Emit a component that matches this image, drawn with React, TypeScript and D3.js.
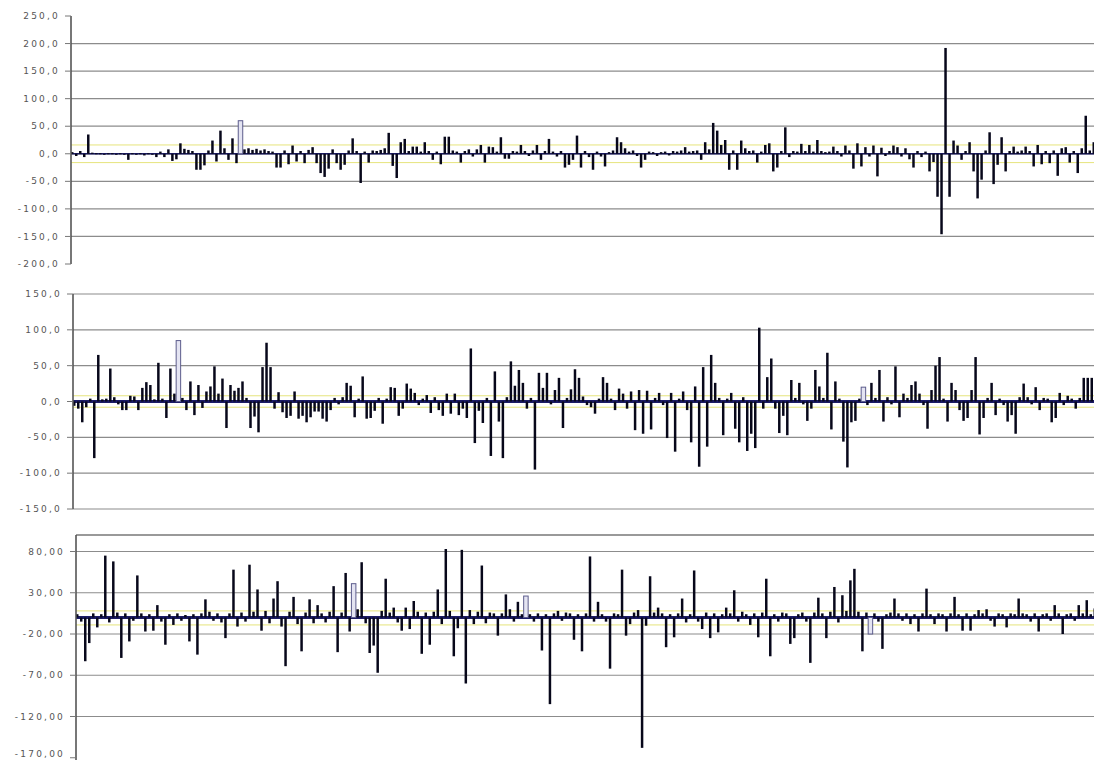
import React from 'react'
import { scaleBand, scaleLinear, range } from 'd3'

const W = 1094, H = 760

// 256 samples per panel
const seriesA = [
  3, -4, 5, -6, 35, 2, 1, 1, 0, 1, 1, 0, 1, 0, -11, 1,
  0, 1, -3, 1, 0, -6, 4, -6, 8, -13, -10, 19, 9, 7, 5, -29,
  -29, -21, 6, 24, -14, 42, 10, -11, 28, -17, 60, 8, 10, 7, 9, 6,
  8, 5, 4, -25, -25, 6, -19, 15, -14, 5, -17, 7, 12, -17, -35, -42,
  -27, 8, -17, -29, -20, 6, 28, 5, -53, 4, -16, 6, 5, 7, 10, 38,
  -22, -44, 21, 27, 5, 13, 13, 4, 21, 5, -11, 4, -19, 31, 31, 6,
  4, -16, 5, 8, -5, 8, 16, -16, 13, 12, 4, 30, -9, -9, 5, 4,
  16, 5, -4, 6, 16, -11, 5, 27, 4, -5, 5, -25, -20, -11, 33, -25,
  5, -6, -29, 4, -5, -23, 3, 6, 30, 21, 10, 4, 6, -4, -25, -11,
  4, 3, -4, 3, 4, -3, 5, 4, 6, 12, 4, 5, 6, -11, 21, 8,
  56, 42, 16, 25, -29, 6, -29, 24, 10, 5, 6, -16, 4, 16, 19, -32,
  -25, 5, 48, -6, 5, 4, 18, 5, 16, 4, 25, 5, 3, 4, 13, 5,
  -5, 15, 6, -27, 19, -23, 12, -5, 15, -41, 11, -4, 5, 15, 12, -5,
  10, -10, -25, 5, -6, 4, -32, -15, -78, -146, 192, -78, 24, 15, -11, 5,
  21, -32, -81, -47, 6, 39, -55, -20, 30, -32, 5, 13, 4, 6, 13, 5,
  -23, 16, -19, 5, -17, 6, -40, 10, 12, -16, 5, -35, 10, 69, 6, 21,
]

const seriesB = [
  -6, -10, -29, -8, 4, -79, 65, 3, 4, 46, 6, -4, -12, -12, 8, 7,
  -12, 19, 27, 23, 3, 54, 4, -23, 46, 11, 85, 5, -12, 28, -19, 23,
  -9, 14, 21, 49, 11, 32, -37, 23, 15, 19, 28, 5, -37, -21, -43, 48,
  82, 48, -10, 13, -15, -23, -20, 14, -24, -20, -29, -22, -14, -14, -24, -28,
  -12, 5, -4, 6, 26, 22, -22, 4, 35, -24, -23, -13, 5, -31, 4, 20,
  19, -20, -10, 25, 18, 12, -5, 4, 9, -16, 6, -12, -20, 11, -17, 11,
  -19, -10, -23, 74, -58, -13, -30, 5, -76, 42, -28, -79, 6, 56, 22, 44,
  26, -10, 5, -95, 40, 19, 40, -4, 16, 33, -37, 5, 17, 45, 33, 7,
  -5, -8, -17, 4, 34, 26, 4, -12, 18, 11, -10, 14, -40, 16, -45, 15,
  -39, 5, 12, -5, -51, 12, -70, 4, 14, -12, -57, 21, -91, 48, -63, 65,
  26, 5, -47, 4, 12, -38, -57, 6, -69, -45, -65, 103, -10, 34, 60, -10,
  -44, -20, -47, 30, 5, 26, -4, -27, -10, 44, 21, 5, 68, -39, 28, 4,
  -56, -92, -29, -27, 4, 20, -5, 26, 5, 44, -28, 6, -4, 49, -22, 11,
  5, 23, 28, 11, -5, -38, 16, 50, 62, 4, -28, 26, 16, -12, -27, -23,
  16, 62, -46, -23, 5, 26, -19, 4, -5, -28, -19, -45, 6, 25, 6, -4,
  20, -12, 5, 4, -29, -23, 12, -5, 8, 4, -10, 5, 33, 33, 33, -10,
]

const seriesC = [
  4, -5, -53, -31, 5, -12, 4, 75, -6, 68, 6, -49, 5, -29, -4, 51,
  5, -17, 4, -16, 15, -5, -33, 4, -9, 5, -4, 3, -29, 4, -45, 5,
  22, 7, -4, 5, -6, -25, 5, 58, -11, 6, -5, 64, 7, 34, -16, 8,
  -7, 23, 44, -11, -59, 7, 25, -8, -41, 6, 22, -7, 15, 5, -6, 7,
  38, -42, 6, 54, -17, 41, 10, 67, -7, -43, -34, -67, 8, 47, 6, 12,
  -6, -16, 12, -14, 20, 7, -44, 6, -33, 7, 34, -8, 83, 8, -47, -13,
  82, -80, 9, -8, 7, 63, -7, 6, 5, -22, 5, 28, 10, -5, 19, 4,
  26, 4, -5, 5, -40, 4, -105, 5, 8, -4, 6, 5, -27, 4, -41, 5,
  74, -5, 19, 4, -5, -62, 5, 4, 58, -22, -8, 6, 9, -158, -10, 50,
  6, 12, 5, -36, 4, -24, 5, 23, -6, 4, 57, -5, -14, 6, -25, 5,
  -18, 4, 12, 5, 33, -5, 7, 4, -9, 5, -24, 6, 47, -47, 4, -5,
  6, 5, -32, -25, 4, 6, -5, -55, 6, 24, 5, -25, 7, 37, -6, 27,
  8, 45, 59, 7, -41, 6, -20, 5, -5, -38, 4, 6, 23, 5, -4, 5,
  -8, 4, -17, 5, 35, 4, -8, 5, 4, -17, 5, 25, 4, -16, 5, -16,
  4, 9, 5, 10, -4, -11, 5, 4, -12, 5, 4, 23, 5, 4, -5, 5,
  -17, 4, 5, -4, 15, 5, -20, 4, 5, -4, 15, 5, 21, 4, 11, 6,
]

// samples drawn as open (light) bars
const hollowA = [42]
const hollowB = [26, 197]
const hollowC = [69, 112, 198]

const ticksA = [250, 200, 150, 100, 50, 0, -50, -100, -150, -200]
const gridA = [200, 150, 100, 50, 0, -50, -100, -150]
const ticksB = [150, 100, 50, 0, -50, -100, -150]
const gridB = [150, 100, 50, 0, -50, -100, -150]
const ticksC = [80, 30, -20, -70, -120, -170]
const gridC = [80, 30, -20, -70, -120]

// yellow control limits
const limitsA = [16, -16]
const limitsB = [8, -8]
const limitsC = [8, -9]

type PanelProps = {
  values: number[],
  hollow: number[],
  ticks: number[],
  grid: number[],
  limits: number[],
  domain: [number, number],
  left: number,
  top: number,
  bottom: number,
  decimals: number,
  band: number,
  box?: boolean,
}

const fmt = (v: number, d: number) => v.toFixed(d).replace('.', ',')

function Panel(props: PanelProps) {
  const { values, hollow, ticks, grid, limits, domain, left, top, bottom, decimals, band, box } = props
  const x = scaleBand<number>()
    .domain(range(values.length))
    .range([left, left + values.length * 4])
    .paddingInner(0.38)
  const y = scaleLinear().domain(domain).range([bottom, top])
  const right = W + 4
  const y0 = y(0)

  return (
    <g>
      {grid.map(t => (
        <line key={'g' + t} x1={left} x2={right} y1={y(t)} y2={y(t)} stroke="#8c8c8c" strokeWidth={1.2} />
      ))}
      {box && <line x1={left} x2={right} y1={top} y2={top} stroke="#777" strokeWidth={1.5} />}
      {limits.map((l, i) => (
        <line key={'l' + i} x1={left} x2={right} y1={y(l)} y2={y(l)} stroke="#e6e47c" strokeWidth={1} />
      ))}
      <line x1={left} x2={right} y1={y0} y2={y0} stroke="#1c1c66" strokeWidth={band} />
      {values.map((v, i) => {
        const open = hollow.includes(i)
        const yy = Math.min(y(v), y0)
        const hh = Math.max(1, Math.abs(y(v) - y0))
        return open ? (
          <rect key={i} x={(x(i) ?? 0) - 1} y={yy} width={x.bandwidth() + 2} height={hh}
            fill="#e4e4f2" stroke="#5c5c8c" strokeWidth={1} />
        ) : (
          <rect key={i} x={x(i)} y={yy} width={x.bandwidth()} height={hh} fill="#07071a" />
        )
      })}
      <line x1={left} x2={left} y1={top} y2={Math.min(bottom, H + 10)} stroke="#555" strokeWidth={1.6} />
      {ticks.map(t => (
        <g key={'t' + t}>
          <line x1={left - 6} x2={left} y1={y(t)} y2={y(t)} stroke="#777" strokeWidth={1} />
          <text
            x={left - 11}
            y={Math.min(y(t), H - 6)}
            dy="0.35em"
            textAnchor="end"
            fontFamily="DejaVu Sans, Verdana, sans-serif"
            fontSize={9}
            letterSpacing={2.2}
            fill="#555"
          >
            {fmt(t, decimals)}
          </text>
        </g>
      ))}
    </g>
  )
}

export default function App() {
  return (
    <div style={{ position: 'fixed', left: 0, top: 0 }}>
      <svg width={W} height={H} style={{ display: 'block', background: '#fff' }}>
        <Panel values={seriesA} hollow={hollowA} ticks={ticksA} grid={gridA} limits={limitsA}
          domain={[-200, 250]} left={71} top={16} bottom={264} decimals={1} band={1.5} />
        <Panel values={seriesB} hollow={hollowB} ticks={ticksB} grid={gridB} limits={limitsB}
          domain={[-150, 150]} left={73} top={294} bottom={509} decimals={1} band={3} />
        <Panel values={seriesC} hollow={hollowC} ticks={ticksC} grid={gridC} limits={limitsC}
          domain={[-180, 100]} left={76} top={535} bottom={766} decimals={2} band={3} box />
      </svg>
    </div>
  )
}
